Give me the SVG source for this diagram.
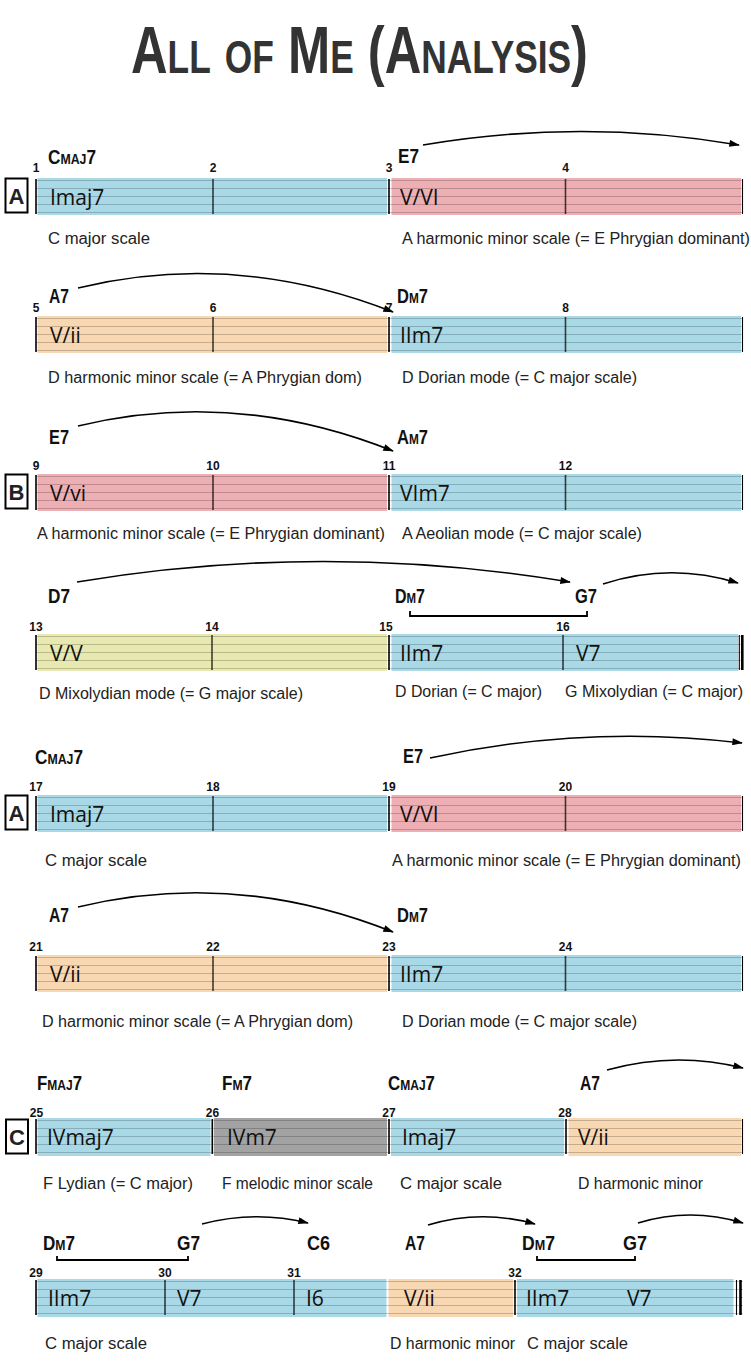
<svg xmlns="http://www.w3.org/2000/svg" width="751" height="1371" viewBox="0 0 751 1371">
<style>
.bg{fill:#ffffff}
.blue{fill:#a9d9e6}
.pink{fill:#edafb3}
.orange{fill:#f8d8b2}
.yellow{fill:#e7e9b0}
.gray{fill:#a3a3a3}
.staff{stroke:#000;stroke-opacity:.2;stroke-width:1.2;fill:none}
.bar{stroke:#000;stroke-width:1.6;fill:none}
.thin{stroke:#000;stroke-width:1.1;fill:none}
.thick{stroke:#000;stroke-width:2.6;fill:none}
.mid{stroke:#000;stroke-opacity:.72;stroke-width:1.6;fill:none}
.roman{font-family:"Open Sans","Noto Sans",sans-serif;font-weight:500;font-size:21px;fill:#111}
.chord{font-family:"Liberation Sans Narrow","Liberation Sans",sans-serif;font-weight:bold;font-variant:small-caps;font-size:21px;fill:#111}
.num{font-family:"Liberation Sans Narrow","Liberation Sans",sans-serif;font-weight:bold;font-size:12px;fill:#111;text-anchor:middle}
.scale{font-family:"Liberation Sans Narrow","Liberation Sans",sans-serif;font-size:16px;fill:#222}
.box{fill:#fff;stroke:#000;stroke-width:2}
.boxl{font-family:"Liberation Sans Narrow","Liberation Sans",sans-serif;font-weight:bold;font-size:22px;fill:#222;text-anchor:middle}
.title{font-family:"Liberation Sans Narrow","Liberation Sans",sans-serif;font-weight:bold;font-variant:small-caps;font-size:66px;fill:#333}
.arrow{fill:none;stroke:#000;stroke-width:1.6;marker-end:url(#ah)}
.brk{fill:none;stroke:#000;stroke-width:1.8}
</style>
<defs>
<marker id="ah" viewBox="0 0 12 8" refX="11" refY="4" markerWidth="12" markerHeight="7" markerUnits="userSpaceOnUse" orient="auto"><path d="M0,0 L12,4 L0,8 z" fill="#000"/></marker>
</defs>
<rect class="bg" x="0" y="0" width="751" height="1371"/>
<text class="title" x="131" y="73" textLength="457" lengthAdjust="spacingAndGlyphs">All of Me (Analysis)</text>

<!-- Row 1 -->
<g id="row1">
<rect class="box" x="5.5" y="178.5" width="22" height="34"/><text class="boxl" x="16.5" y="204">A</text>
<g id="bars1-2"><rect class="blue" x="37.5" y="178" width="349.5" height="37"/><text class="roman" x="50" y="204.5">Imaj7</text></g>
<g id="bars3-4"><rect class="pink" x="391.5" y="178" width="349.5" height="37"/><text class="roman" x="400" y="204.5">V/VI</text></g>
<path class="staff" d="M36,180.5H742M36,188.5H742M36,196.5H742M36,204.5H742M36,212.5H742"/>
<path class="bar" d="M36,179V214M389,179V214"/><path class="mid" d="M213,179V214M565.5,179V214"/><path class="thin" d="M742.5,179V214"/>
<text class="num" x="36" y="172">1</text><text class="num" x="213" y="172">2</text><text class="num" x="389" y="172">3</text><text class="num" x="565.5" y="172">4</text>
<text class="chord" x="48" y="164" textLength="48" lengthAdjust="spacingAndGlyphs">Cmaj7</text>
<text class="chord" x="398" y="163" textLength="21" lengthAdjust="spacingAndGlyphs">E7</text>
<text class="scale" x="48" y="244" textLength="102" lengthAdjust="spacingAndGlyphs">C major scale</text>
<text class="scale" x="402" y="244" textLength="348" lengthAdjust="spacingAndGlyphs">A harmonic minor scale (= E Phrygian dominant)</text>
</g>

<!-- Row 2 -->
<g id="row2">
<g id="bars5-6"><rect class="orange" x="37.5" y="316" width="349.5" height="37"/><text class="roman" x="50" y="342.5">V/ii</text></g>
<g id="bars7-8"><rect class="blue" x="391.5" y="316" width="349.5" height="37"/><text class="roman" x="400" y="342.5">IIm7</text></g>
<path class="staff" d="M36,318.5H742M36,326.5H742M36,334.5H742M36,342.5H742M36,350.5H742"/>
<path class="bar" d="M36,317V352M389,317V352"/><path class="mid" d="M213,317V352M565.5,317V352"/><path class="thin" d="M742.5,317V352"/>
<text class="num" x="36" y="312">5</text><text class="num" x="213" y="312">6</text><text class="num" x="389" y="312">7</text><text class="num" x="565.5" y="312">8</text>
<text class="chord" x="49" y="303" textLength="20" lengthAdjust="spacingAndGlyphs">A7</text>
<text class="chord" x="397" y="303" textLength="31" lengthAdjust="spacingAndGlyphs">Dm7</text>
<text class="scale" x="48" y="383" textLength="314" lengthAdjust="spacingAndGlyphs">D harmonic minor scale (= A Phrygian dom)</text>
<text class="scale" x="402" y="383" textLength="235" lengthAdjust="spacingAndGlyphs">D Dorian mode (= C major scale)</text>
</g>

<!-- Row 3 -->
<g id="row3">
<rect class="box" x="5.5" y="474.5" width="22" height="34"/><text class="boxl" x="16.5" y="500">B</text>
<g id="bars9-10"><rect class="pink" x="37.5" y="474" width="349.5" height="37"/><text class="roman" x="50" y="500.5">V/vi</text></g>
<g id="bars11-12"><rect class="blue" x="391.5" y="474" width="349.5" height="37"/><text class="roman" x="400" y="500.5">VIm7</text></g>
<path class="staff" d="M36,476.5H742M36,484.5H742M36,492.5H742M36,500.5H742M36,508.5H742"/>
<path class="bar" d="M36,475V510M389,475V510"/><path class="mid" d="M213,475V510M565.5,475V510"/><path class="thin" d="M742.5,475V510"/>
<text class="num" x="36" y="470">9</text><text class="num" x="213" y="470">10</text><text class="num" x="389" y="470">11</text><text class="num" x="565.5" y="470">12</text>
<text class="chord" x="49" y="444" textLength="20" lengthAdjust="spacingAndGlyphs">E7</text>
<text class="chord" x="397" y="444" textLength="31" lengthAdjust="spacingAndGlyphs">Am7</text>
<text class="scale" x="37" y="539" textLength="348" lengthAdjust="spacingAndGlyphs">A harmonic minor scale (= E Phrygian dominant)</text>
<text class="scale" x="402" y="539" textLength="240" lengthAdjust="spacingAndGlyphs">A Aeolian mode (= C major scale)</text>
</g>

<!-- Row 4 -->
<g id="row4">
<g id="bars13-14"><rect class="yellow" x="37.5" y="634" width="349.5" height="37"/><text class="roman" x="50" y="660.5">V/V</text></g>
<g id="bars15-16"><rect class="blue" x="391.5" y="634" width="346.5" height="37"/><text class="roman" x="400" y="660.5">IIm7</text><text class="roman" x="576" y="660.5">V7</text></g>
<path class="staff" d="M36,636.5H743M36,644.5H743M36,652.5H743M36,660.5H743M36,668.5H743"/>
<path class="bar" d="M36,635V670M389,635V670"/><path class="mid" d="M212,635V670M563,635V670"/><path class="thin" d="M739.3,635V670"/><path class="thick" d="M742.3,635V670"/>
<text class="num" x="36" y="631">13</text><text class="num" x="212" y="631">14</text><text class="num" x="386" y="631">15</text><text class="num" x="563" y="631">16</text>
<text class="chord" x="48" y="603" textLength="22" lengthAdjust="spacingAndGlyphs">D7</text>
<text class="chord" x="395" y="603" textLength="30" lengthAdjust="spacingAndGlyphs">Dm7</text>
<text class="chord" x="575" y="603" textLength="22" lengthAdjust="spacingAndGlyphs">G7</text>
<text class="scale" x="39" y="699" textLength="264" lengthAdjust="spacingAndGlyphs">D Mixolydian mode (= G major scale)</text>
<text class="scale" x="395" y="697" textLength="147" lengthAdjust="spacingAndGlyphs">D Dorian (= C major)</text>
<text class="scale" x="565" y="697" textLength="178" lengthAdjust="spacingAndGlyphs">G Mixolydian (= C major)</text>
</g>

<!-- Row 5 -->
<g id="row5">
<rect class="box" x="5.5" y="795.5" width="22" height="34"/><text class="boxl" x="16.5" y="821">A</text>
<g id="bars17-18"><rect class="blue" x="37.5" y="795" width="349.5" height="37"/><text class="roman" x="50" y="821.5">Imaj7</text></g>
<g id="bars19-20"><rect class="pink" x="391.5" y="795" width="349.5" height="37"/><text class="roman" x="400" y="821.5">V/VI</text></g>
<path class="staff" d="M36,797.5H742M36,805.5H742M36,813.5H742M36,821.5H742M36,829.5H742"/>
<path class="bar" d="M36,796V831M389,796V831"/><path class="mid" d="M213,796V831M565.5,796V831"/><path class="thin" d="M742.5,796V831"/>
<text class="num" x="36" y="791">17</text><text class="num" x="213" y="791">18</text><text class="num" x="389" y="791">19</text><text class="num" x="565.5" y="791">20</text>
<text class="chord" x="35" y="764" textLength="48" lengthAdjust="spacingAndGlyphs">Cmaj7</text>
<text class="chord" x="403" y="763" textLength="20" lengthAdjust="spacingAndGlyphs">E7</text>
<text class="scale" x="45" y="866" textLength="102" lengthAdjust="spacingAndGlyphs">C major scale</text>
<text class="scale" x="392" y="866" textLength="349" lengthAdjust="spacingAndGlyphs">A harmonic minor scale (= E Phrygian dominant)</text>
</g>

<!-- Row 6 -->
<g id="row6">
<g id="bars21-22"><rect class="orange" x="37.5" y="955" width="349.5" height="37"/><text class="roman" x="50" y="981.5">V/ii</text></g>
<g id="bars23-24"><rect class="blue" x="391.5" y="955" width="349.5" height="37"/><text class="roman" x="400" y="981.5">IIm7</text></g>
<path class="staff" d="M36,957.5H742M36,965.5H742M36,973.5H742M36,981.5H742M36,989.5H742"/>
<path class="bar" d="M36,956V991M389,956V991"/><path class="mid" d="M213,956V991M565.5,956V991"/><path class="thin" d="M742.5,956V991"/>
<text class="num" x="36" y="951">21</text><text class="num" x="213" y="951">22</text><text class="num" x="389" y="951">23</text><text class="num" x="565.5" y="951">24</text>
<text class="chord" x="49" y="922" textLength="20" lengthAdjust="spacingAndGlyphs">A7</text>
<text class="chord" x="397" y="922" textLength="31" lengthAdjust="spacingAndGlyphs">Dm7</text>
<text class="scale" x="42" y="1027" textLength="311" lengthAdjust="spacingAndGlyphs">D harmonic minor scale (= A Phrygian dom)</text>
<text class="scale" x="402" y="1027" textLength="235" lengthAdjust="spacingAndGlyphs">D Dorian mode (= C major scale)</text>
</g>

<!-- Row 7 -->
<g id="row7">
<rect class="box" x="6" y="1119.5" width="22" height="34"/><text class="boxl" x="17" y="1145">C</text>
<g id="bar25"><rect class="blue" x="37.5" y="1118" width="173" height="38"/><text class="roman" x="47" y="1144.5">IVmaj7</text></g>
<g id="bar26"><rect class="gray" x="214" y="1118" width="173" height="38"/><text class="roman" x="227" y="1144.5">IVm7</text></g>
<g id="bar27"><rect class="blue" x="391" y="1118" width="173" height="38"/><text class="roman" x="402" y="1144.5">Imaj7</text></g>
<g id="bar28"><rect class="orange" x="568.5" y="1118" width="172.5" height="38"/><text class="roman" x="578" y="1144.5">V/ii</text></g>
<path class="staff" d="M36,1120.5H742M36,1128.5H742M36,1136.5H742M36,1144.5H742M36,1152.5H742"/>
<path class="bar" d="M36,1119V1154M212.3,1119V1154M389,1119V1154M566,1119V1154"/><path class="thin" d="M742.5,1119V1154"/>
<text class="num" x="36.5" y="1116.5">25</text><text class="num" x="212.5" y="1116.5">26</text><text class="num" x="389" y="1116.5">27</text><text class="num" x="565" y="1116.5">28</text>
<text class="chord" x="37" y="1090" textLength="45" lengthAdjust="spacingAndGlyphs">Fmaj7</text>
<text class="chord" x="222" y="1090" textLength="30" lengthAdjust="spacingAndGlyphs">Fm7</text>
<text class="chord" x="388" y="1090" textLength="47" lengthAdjust="spacingAndGlyphs">Cmaj7</text>
<text class="chord" x="580" y="1090" textLength="20" lengthAdjust="spacingAndGlyphs">A7</text>
<text class="scale" x="43" y="1189" textLength="150" lengthAdjust="spacingAndGlyphs">F Lydian (= C major)</text>
<text class="scale" x="222" y="1189" textLength="151" lengthAdjust="spacingAndGlyphs">F melodic minor scale</text>
<text class="scale" x="400" y="1189" textLength="102" lengthAdjust="spacingAndGlyphs">C major scale</text>
<text class="scale" x="578" y="1189" textLength="125" lengthAdjust="spacingAndGlyphs">D harmonic minor</text>
</g>

<!-- Row 8 -->
<g id="row8">
<g id="bars29-31"><rect class="blue" x="37.5" y="1279" width="349" height="38"/><text class="roman" x="48" y="1306">IIm7</text><text class="roman" x="177" y="1306">V7</text><text class="roman" x="306" y="1306">I6</text></g>
<g id="bar31b"><rect class="orange" x="388.5" y="1279" width="124.5" height="38"/><text class="roman" x="404" y="1306">V/ii</text></g>
<g id="bar32"><rect class="blue" x="517" y="1279" width="216.5" height="38"/><text class="roman" x="526" y="1306">IIm7</text><text class="roman" x="627" y="1306">V7</text></g>
<path class="staff" d="M36,1281.5H743M36,1289.5H743M36,1297.5H743M36,1305.5H743M36,1313.5H743"/>
<path class="bar" d="M36,1280V1315M515,1280V1315"/><path class="mid" d="M165,1280V1315M294,1280V1315"/><path class="thin" d="M736.5,1280V1315"/><path class="thick" d="M740.5,1280V1315"/>
<text class="num" x="36" y="1277">29</text><text class="num" x="165" y="1277">30</text><text class="num" x="294" y="1277">31</text><text class="num" x="515" y="1277">32</text>
<text class="chord" x="43" y="1250" textLength="32" lengthAdjust="spacingAndGlyphs">Dm7</text>
<text class="chord" x="177" y="1250" textLength="23" lengthAdjust="spacingAndGlyphs">G7</text>
<text class="chord" x="307" y="1250" textLength="23" lengthAdjust="spacingAndGlyphs">C6</text>
<text class="chord" x="405" y="1250" textLength="20" lengthAdjust="spacingAndGlyphs">A7</text>
<text class="chord" x="522" y="1250" textLength="33" lengthAdjust="spacingAndGlyphs">Dm7</text>
<text class="chord" x="623" y="1250" textLength="24" lengthAdjust="spacingAndGlyphs">G7</text>
<text class="scale" x="45" y="1349" textLength="102" lengthAdjust="spacingAndGlyphs">C major scale</text>
<text class="scale" x="390" y="1349" textLength="125" lengthAdjust="spacingAndGlyphs">D harmonic minor</text>
<text class="scale" x="527" y="1349" textLength="101" lengthAdjust="spacingAndGlyphs">C major scale</text>
</g>

<g id="connectors">
<path class="arrow" d="M423,145 Q581,118 739,145"/>
<path class="arrow" d="M78,288 Q235,250 393,312"/>
<path class="arrow" d="M78,426 Q235,388 393,451"/>
<path class="arrow" d="M77,582 Q323,541 570,582"/>
<path class="arrow" d="M603,584 Q670,562 738,583"/>
<path class="arrow" d="M430,758 Q586,724 742,743"/>
<path class="arrow" d="M78,907 Q235,869 393,932"/>
<path class="arrow" d="M607,1070 Q675,1051 743,1068"/>
<path class="arrow" d="M202,1224 Q255,1210 308,1223"/>
<path class="arrow" d="M428,1225 Q481,1209 535,1224"/>
<path class="arrow" d="M638,1223 Q690,1207 743,1223"/>
<path class="brk" d="M410,611V616H587V611"/>
<path class="brk" d="M57,1256V1260H188V1256"/>
<path class="brk" d="M537,1256V1260H635V1256"/>
</g>
</svg>
